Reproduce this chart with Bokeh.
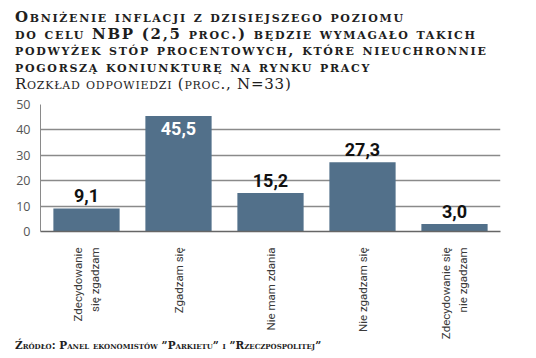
import math
from bokeh.plotting import figure
from bokeh.models import FactorRange, Range1d, ColumnDataSource, LabelSet, Div, FixedTicker
from bokeh.core.properties import value
from bokeh.layouts import column
from bokeh.embed import file_html
from bokeh.resources import INLINE

# ---- data ----
categories = ["Zdecydowanie\nsię zgadzam", "Zgadzam się", "Nie mam zdania",
              "Nie zgadzam się", "Zdecydowanie się\nnie zgadzam"]
values = [9.1, 45.5, 15.2, 27.3, 3.0]
value_labels = ["9,1", "45,5", "15,2", "27,3", "3,0"]
y_ticks = [0, 10, 20, 30, 40, 50]

title_lines = ["Obniżenie inflacji z dzisiejszego poziomu",
               "do celu NBP (2,5 proc.) będzie wymagało takich",
               "podwyżek stóp procentowych, które nieuchronnie",
               "pogorszą koniunkturę na rynku pracy"]
subtitle = "Rozkład odpowiedzi (proc., N=33)"
source_text = "Źródło: Panel ekonomistów \u201dParkietu\u201d i \u201dRzeczpospolitej\u201d"

BAR = "#52708a"
GRID = "#8a8a8a"

# ---- title div ----
title_html = (
    "<div style=\"font-family:'DejaVu Serif';font-weight:bold;font-variant:small-caps;"
    "font-size:15px;line-height:16.7px;color:#1e1e1e;padding-top:9px;"
    "letter-spacing:1.7px;white-space:nowrap\">" + "<br>".join(title_lines) + "</div>"
    "<div style=\"font-family:'DejaVu Serif';font-weight:normal;font-variant:small-caps;"
    "font-size:15px;line-height:16px;color:#1e1e1e;letter-spacing:0.75px;"
    "white-space:nowrap\">" + subtitle + "</div>"
)
title_div = Div(text=title_html, width=505, height=96, margin=(0, 0, 0, 15))

# ---- chart ----
p = figure(frame_width=460, frame_height=127, x_range=FactorRange(*categories),
           y_range=Range1d(0, 50), output_backend="svg", toolbar_location=None,
           min_border_left=32, min_border_right=20, min_border_top=8,
           min_border_bottom=100, margin=(0, 0, 0, 8))
p.outline_line_color = None

src = ColumnDataSource(dict(cat=categories, val=values))
p.vbar(x="cat", top="val", width=0.72, source=src, color=BAR, line_color=None)

out_idx = [i for i, v in enumerate(values) if v <= 40]
in_idx = [i for i, v in enumerate(values) if v > 40]
src_out = ColumnDataSource(dict(cat=[categories[i] for i in out_idx],
                                val=[values[i] for i in out_idx],
                                lab=[value_labels[i] for i in out_idx]))
src_in = ColumnDataSource(dict(cat=[categories[i] for i in in_idx],
                               val=[values[i] for i in in_idx],
                               lab=[value_labels[i] for i in in_idx]))
p.add_layout(LabelSet(x="cat", y="val", text="lab", source=src_out, y_offset=6,
                      text_align="center", text_baseline="bottom",
                      text_font=value("Roboto"), text_font_style="bold",
                      text_font_size="18px", text_color="#111111"))
p.add_layout(LabelSet(x="cat", y="val", text="lab", source=src_in, y_offset=-6,
                      text_align="center", text_baseline="top",
                      text_font=value("Roboto"), text_font_style="bold",
                      text_font_size="18px", text_color="#ffffff"))

p.yaxis.ticker = FixedTicker(ticks=y_ticks)
p.yaxis.major_tick_line_color = None
p.yaxis.minor_tick_line_color = None
p.yaxis.axis_line_color = GRID
p.yaxis.major_label_text_font = "Open Sans"
p.yaxis.major_label_text_font_size = "12.5px"
p.yaxis.major_label_text_color = "#555555"
p.yaxis.major_label_standoff = 4

p.xaxis.major_tick_line_color = None
p.xaxis.axis_line_color = "#666666"
p.xaxis.axis_line_width = 1.5
p.xaxis.major_label_orientation = math.pi / 2
p.xaxis.major_label_text_font = "Roboto"
p.xaxis.major_label_text_font_size = "11.5px"
p.xaxis.major_label_text_color = "#3a3a3a"
p.xaxis.major_label_text_line_height = 1.25
p.xaxis.major_label_standoff = 10

p.xgrid.grid_line_color = None
p.ygrid.grid_line_color = GRID
p.ygrid.grid_line_width = 1.3
p.ygrid.ticker = FixedTicker(ticks=y_ticks)

# ---- source div ----
source_div = Div(
    text="<div style=\"font-family:'DejaVu Serif';font-weight:bold;font-variant:small-caps;"
         "font-size:10.5px;line-height:13px;color:#1e1e1e;padding-top:0px;white-space:nowrap\">"
         + source_text + "</div>",
    width=505, height=16, margin=(-5, 0, 0, 15))

layout = column(title_div, p, source_div, spacing=0)
open("out.html", "w").write(file_html(layout, INLINE))
